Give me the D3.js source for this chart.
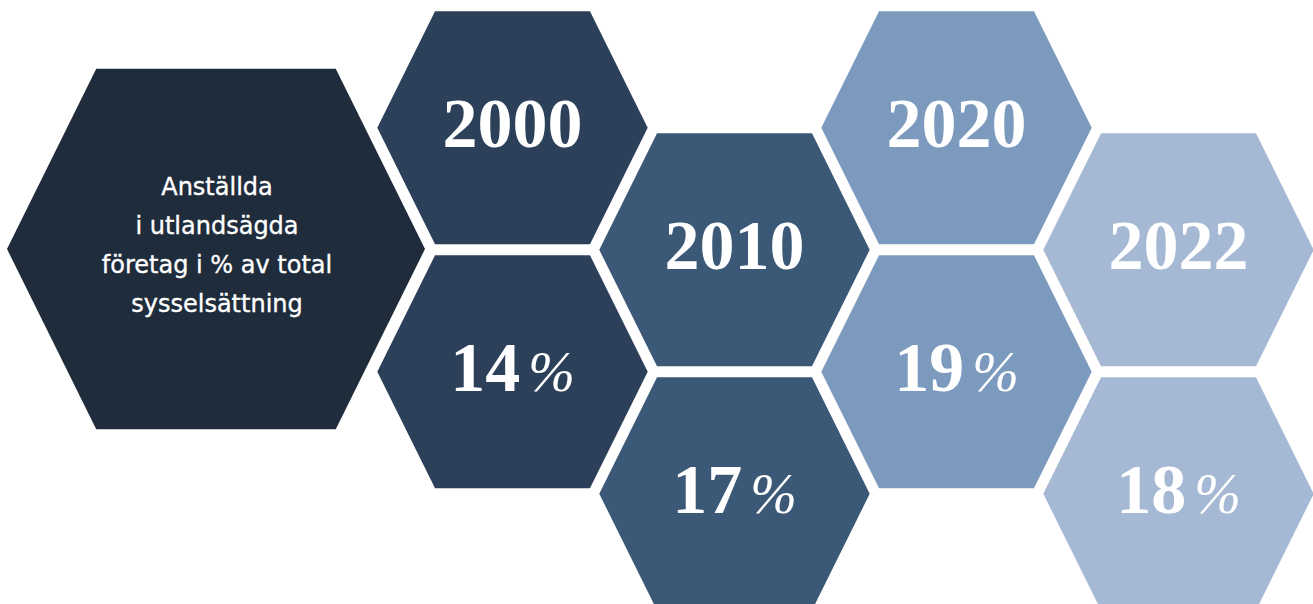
<!DOCTYPE html>
<html>
<head>
<meta charset="utf-8">
<script src="https://cdn.jsdelivr.net/npm/d3@7"></script>
<style>
  body { margin: 0; background: #fff; }
  svg { display: block; }
</style>
</head>
<body>
<script>
var width = 1313, height = 604;

// data
var years = ["2000", "2010", "2020", "2022"];
var shares = [14, 17, 19, 18];
var colors = ["#2d4059", "#3b5876", "#7b9abd", "#a6b9d4"];
var titleLines = ["Anställda", "i utlandsägda", "företag i % av total", "sysselsättning"];
var titleColor = "#1f2c3c";

var svg = d3.select("body").append("svg")
    .attr("width", width)
    .attr("height", height);

// hexagon shape, pointy left/right (R = horizontal radius)
function hexPoints(cx, cy, R) {
  var t = R * 0.573, h = R * 0.862;
  return [[cx - R, cy], [cx - t, cy - h], [cx + t, cy - h],
          [cx + R, cy], [cx + t, cy + h], [cx - t, cy + h]];
}
var line = d3.line().curve(d3.curveLinearClosed);

// big title hexagon
svg.append("path")
    .attr("d", line(hexPoints(216, 249, 209)))
    .attr("fill", titleColor);

svg.append("text")
    .attr("x", 217)
    .attr("y", 195)
    .attr("text-anchor", "middle")
    .attr("fill", "#fff")
    .attr("stroke", "#fff")
    .attr("stroke-width", 0.35)
    .style("font-family", "'DejaVu Sans', sans-serif")
    .style("font-size", "24px")
  .selectAll("tspan")
    .data(titleLines)
  .enter().append("tspan")
    .attr("x", 217)
    .attr("dy", function(d, i) { return i === 0 ? 0 : 39; })
    .text(function(d) { return d; });

// columns of small hexagons
var x = d3.scalePoint().domain(years).range([512.5, 1178.5]);
var R = 135.2;
var rowGap = 244;

var cells = [];
years.forEach(function(y, i) {
  var cy0 = (i % 2 === 0) ? 127.8 : 249.8;
  cells.push({ year: y, kind: "year", label: y, cx: x(y), cy: cy0, color: colors[i] });
  cells.push({ year: y, kind: "value", label: shares[i], cx: x(y), cy: cy0 + rowGap, color: colors[i] });
});

var g = svg.selectAll("g.cell")
    .data(cells)
  .enter().append("g")
    .attr("class", "cell");

g.append("path")
    .attr("d", function(d) { return line(hexPoints(d.cx, d.cy, R)); })
    .attr("fill", function(d) { return d.color; });

var txt = g.append("text")
    .attr("x", function(d) { return d.cx; })
    .attr("y", function(d) { return d.cy + 19; })
    .attr("text-anchor", "middle")
    .attr("fill", "#fff")
    .style("font-family", "'Liberation Serif', 'DejaVu Serif', serif")
    .style("font-weight", "bold")
    .style("font-size", "70px");

txt.filter(function(d) { return d.kind === "year"; })
    .text(function(d) { return d.label; });

var vt = txt.filter(function(d) { return d.kind === "value"; });
vt.append("tspan").text(function(d) { return d.label; });
vt.append("tspan")
    .attr("dx", 8)
    .style("font-weight", "normal")
    .style("font-style", "italic")
    .style("font-size", "56px")
    .text("%");
</script>
</body>
</html>
